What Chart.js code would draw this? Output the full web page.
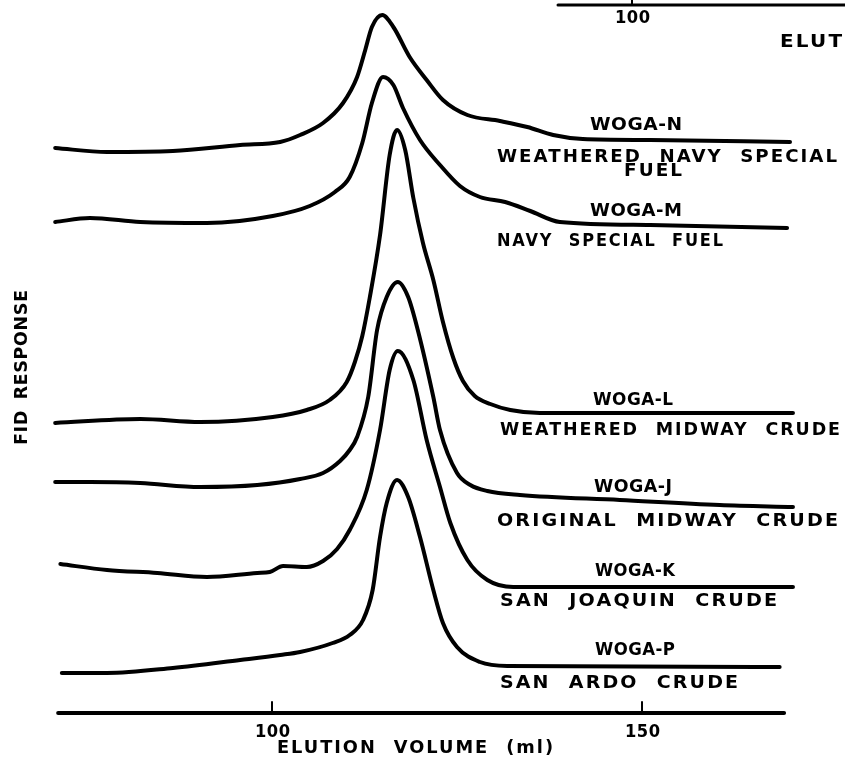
<!DOCTYPE html>
<html>
<head>
<meta charset="utf-8">
<script src="https://cdn.jsdelivr.net/npm/chart.js@4"></script>
<style>
  html, body { margin: 0; padding: 0; background: #fff; }
  #wrap { width: 845px; height: 763px; }
</style>
</head>
<body>
<div id="wrap"><canvas id="fidChart" width="845" height="763"></canvas></div>
<script>
// elution volume (ml) and FID response (offset, arbitrary units) per sample
const wogaNVolume   = [70.7, 77.7, 86.6, 95.7, 101.1, 103.8, 106.9, 109.6, 111.5, 112.6, 113.5, 114.9, 116.4, 118.6, 120.9, 123.1, 126.4, 130.8, 134.5, 138.0, 142.0, 151.1, 170.0];
const wogaNResponse = [113.0, 112.2, 112.4, 113.6, 114.2, 115.6, 118.0, 122.0, 127.2, 132.6, 137.2, 139.6, 137.2, 131.2, 126.6, 122.6, 119.6, 118.4, 117.2, 115.6, 114.8, 114.6, 114.2];

const wogaMVolume   = [70.7, 75.4, 82.2, 91.2, 100.1, 105.1, 108.5, 110.5, 112.2, 113.5, 115.0, 116.4, 117.7, 120.0, 122.7, 125.4, 128.1, 131.5, 134.9, 138.9, 151.1, 169.6];
const wogaMResponse = [98.2, 99.0, 98.2, 98.0, 99.4, 101.4, 104.2, 107.2, 114.0, 122.0, 127.2, 125.6, 121.0, 114.6, 109.6, 105.4, 103.2, 102.2, 100.4, 98.2, 97.6, 97.0];

const wogaLVolume   = [70.7, 82.2, 90.3, 100.1, 104.7, 107.8, 110.1, 111.2, 112.2, 113.2, 114.6, 115.9, 116.9, 118.0, 119.1, 120.4, 121.8, 123.1, 124.5, 125.8, 127.4, 129.5, 132.2, 136.2, 170.4];
const wogaLResponse = [58.0, 58.8, 58.2, 59.2, 60.6, 62.6, 66.2, 70.2, 75.4, 83.0, 95.6, 111.6, 116.6, 112.6, 103.0, 94.0, 86.6, 78.2, 71.0, 66.4, 63.4, 61.8, 60.6, 60.0, 60.0];

const wogaJVolume   = [70.7, 75.4, 82.2, 90.3, 98.0, 103.8, 106.9, 109.2, 110.5, 111.5, 113.0, 114.2, 115.5, 117.0, 118.4, 119.7, 121.8, 122.7, 125.0, 126.8, 129.1, 133.5, 147.0, 160.5, 170.4];
const wogaJResponse = [46.2, 46.2, 46.0, 45.2, 45.6, 46.8, 48.0, 50.4, 52.6, 55.2, 63.2, 76.6, 83.2, 86.2, 83.2, 76.6, 63.2, 56.6, 48.0, 45.6, 44.4, 43.6, 42.6, 41.6, 41.2];

const wogaKVolume   = [71.4, 77.7, 84.5, 91.2, 98.0, 99.7, 101.5, 104.7, 106.9, 108.8, 110.5, 112.8, 114.6, 115.9, 117.0, 119.1, 120.9, 122.7, 124.1, 126.4, 129.1, 132.6, 170.4];
const wogaKResponse = [29.8, 28.6, 28.0, 27.2, 28.0, 28.2, 29.4, 29.2, 30.4, 32.8, 36.6, 44.6, 56.6, 68.6, 72.4, 66.6, 54.6, 45.2, 38.0, 30.6, 26.6, 25.2, 25.2];

const wogaPVolume   = [71.6, 77.7, 86.6, 95.7, 101.1, 103.8, 108.2, 110.5, 112.3, 113.6, 114.6, 115.5, 116.9, 118.4, 120.0, 121.8, 123.1, 125.0, 128.1, 131.8, 168.6];
const wogaPResponse = [8.0, 8.0, 9.0, 10.6, 11.6, 12.2, 14.0, 15.6, 18.6, 24.6, 35.2, 42.0, 46.6, 43.2, 35.2, 24.6, 18.0, 13.2, 10.2, 9.4, 9.2];

const sampleCodes = ['WOGA-N', 'WOGA-M', 'WOGA-L', 'WOGA-J', 'WOGA-K', 'WOGA-P'];
const sampleNames = [
  ['WEATHERED NAVY SPECIAL', 'FUEL'],
  ['NAVY SPECIAL FUEL'],
  ['WEATHERED MIDWAY CRUDE'],
  ['ORIGINAL MIDWAY CRUDE'],
  ['SAN JOAQUIN CRUDE'],
  ['SAN ARDO CRUDE']
];
const volumeTicks = [100, 150];
const axisRange = [71.1, 169.2];

const series = [
  [wogaNVolume, wogaNResponse],
  [wogaMVolume, wogaMResponse],
  [wogaLVolume, wogaLResponse],
  [wogaJVolume, wogaJResponse],
  [wogaKVolume, wogaKResponse],
  [wogaPVolume, wogaPResponse]
];

// where the code / sample text sits next to each trace tail: [leftX, y, width]
const labelSpots = [
  { code: [590, 125, 92], names: [[497, 157, 340], [624, 171, 58]] },
  { code: [590, 211, 92], names: [[497, 241, 226]] },
  { code: [593, 400, 80], names: [[500, 430, 340]] },
  { code: [594, 487, 78], names: [[497, 521, 341]] },
  { code: [595, 571, 80], names: [[500, 601, 277]] },
  { code: [595, 650, 80], names: [[500, 683, 238]] }
];

const FONT = 'bold 18px "DejaVu Sans"';
const WIDE = { gap: 2, word: 9 };
const TIGHT = { gap: 0.5, word: 4 };

// stroke lettering: even gaps between glyphs and words, glyphs widened to reach the lettered width
function letter(ctx, text, left, y, width, spacing, rotate) {
  ctx.save();
  ctx.font = FONT;
  ctx.textAlign = 'left';
  ctx.textBaseline = 'middle';
  ctx.letterSpacing = spacing.gap + 'px';
  ctx.wordSpacing = spacing.word + 'px';
  const natural = ctx.measureText(text).width - spacing.gap;
  ctx.translate(left, y);
  if (rotate) {
    ctx.rotate(-Math.PI / 2);
  }
  ctx.scale(width / natural, 1);
  ctx.fillText(text, 0, 0);
  ctx.restore();
}

const lettering = {
  id: 'lettering',
  afterDraw(chart) {
    const ctx = chart.ctx;
    const x = chart.scales.x;
    const base = chart.chartArea.bottom;
    ctx.save();
    ctx.fillStyle = '#000';
    ctx.strokeStyle = '#000';
    ctx.lineCap = 'round';

    // bottom volume axis
    ctx.lineWidth = 4;
    ctx.beginPath();
    ctx.moveTo(x.getPixelForValue(axisRange[0]), base);
    ctx.lineTo(x.getPixelForValue(axisRange[1]), base);
    ctx.stroke();
    ctx.lineWidth = 2;
    volumeTicks.forEach(v => {
      const px = x.getPixelForValue(v);
      ctx.beginPath();
      ctx.moveTo(px, base);
      ctx.lineTo(px, base - 11);
      ctx.stroke();
      letter(ctx, String(v), px - 17, base + 19, 35, TIGHT);
    });
    letter(ctx, 'ELUTION VOLUME (ml)', 277, 748, 276, WIDE);

    // edge of the neighbouring panel's axis at the top
    ctx.lineWidth = 3;
    ctx.beginPath();
    ctx.moveTo(558, 5);
    ctx.lineTo(850, 5);
    ctx.stroke();
    ctx.lineWidth = 2;
    ctx.beginPath();
    ctx.moveTo(632, 5);
    ctx.lineTo(632, -2);
    ctx.stroke();
    letter(ctx, '100', 615, 18, 35, TIGHT);
    letter(ctx, 'ELUTION VOLUME (ml)', 780, 42, 310, WIDE);

    letter(ctx, 'FID RESPONSE', 22, 445, 155, TIGHT, true);

    sampleCodes.forEach((code, i) => {
      const spot = labelSpots[i];
      letter(ctx, code, spot.code[0], spot.code[1], spot.code[2], TIGHT);
      sampleNames[i].forEach((name, j) => {
        const s = spot.names[j];
        letter(ctx, name, s[0], s[1], s[2], WIDE);
      });
    });
    ctx.restore();
  }
};

new Chart(document.getElementById('fidChart'), {
  type: 'line',
  data: {
    datasets: series.map(([vol, resp], i) => ({
      label: sampleCodes[i],
      data: vol.map((v, k) => ({ x: v, y: resp[k] })),
      borderColor: '#000',
      borderWidth: 4,
      borderCapStyle: 'round',
      borderJoinStyle: 'round',
      cubicInterpolationMode: 'monotone',
      pointRadius: 0,
      fill: false,
      clip: false
    }))
  },
  options: {
    responsive: false,
    animation: false,
    layout: { padding: { left: 50, right: 45, top: 8, bottom: 50 } },
    plugins: {
      legend: { display: false },
      tooltip: { enabled: false }
    },
    scales: {
      x: { type: 'linear', min: 70, max: 171.35, display: false },
      y: { min: 0, max: 141, display: false }
    }
  },
  plugins: [lettering]
});
</script>
</body>
</html>
